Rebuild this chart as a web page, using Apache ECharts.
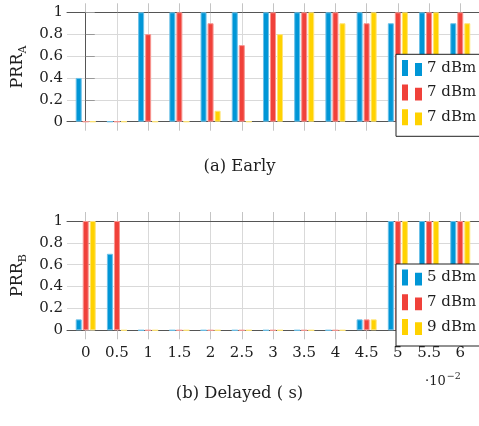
<!DOCTYPE html>
<html>
<head>
<meta charset="utf-8">
<script src="https://cdn.jsdelivr.net/npm/echarts@6/dist/echarts.min.js"></script>
<style>
  html, body { margin: 0; padding: 0; background: #fff; }
  #chart { width: 479px; height: 426px; }
</style>
</head>
<body>
<div id="chart"></div>
<script>
// Offsets along the x axis (units of 10^-2 s) and their tick labels
const offsets = [0, 0.5, 1, 1.5, 2, 2.5, 3, 3.5, 4, 4.5, 5, 5.5, 6];
const tickLabels = ['0', '0.5', '1', '1.5', '2', '2.5', '3', '3.5', '4', '4.5', '5', '5.5', '6'];
const yTicks = [0, 0.2, 0.4, 0.6, 0.8, 1];

// (a) Early
const earlyBlue   = [0.4, 0, 1, 1, 1, 1, 1, 1, 1, 1, 0.9, 1, 0.9];
const earlyRed    = [0, 0, 0.8, 1, 0.9, 0.7, 1, 1, 1, 0.9, 1, 1, 1];
const earlyYellow = [0, 0, 0, 0, 0.1, 0, 0.8, 1, 0.9, 1, 1, 1, 0.9];

// (b) Delayed
const delayedBlue   = [0.1, 0.7, 0, 0, 0, 0, 0, 0, 0, 0.1, 1, 1, 1];
const delayedRed    = [1, 1, 0, 0, 0, 0, 0, 0, 0, 0.1, 1, 1, 1];
const delayedYellow = [1, 0, 0, 0, 0, 0, 0, 0, 0, 0.1, 1, 1, 1];

// Legend entries
const earlyLegend = ['7 dBm', '7 dBm', '7 dBm'];
const delayedLegend = ['5 dBm', '7 dBm', '9 dBm'];

const FONT = 'DejaVu Serif';
const INK = '#1e1e1e';
const COLORS = ['#0096d6', '#f0413a', '#ffd200'];
const EDGES = ['#6cc0e8', '#f79590', '#ffe476'];
const legendIcon = 'path://M0,0H6V16H0Z M13,3.2H20V16H13Z';

const labelOf = {};
earlyLegend.forEach((t, i) => { labelOf['early-' + i] = t; });
delayedLegend.forEach((t, i) => { labelOf['delayed-' + i] = t; });

function barSeries(name, values, idx, gi) {
  return {
    type: 'bar',
    name: name,
    xAxisIndex: gi * 2,
    yAxisIndex: gi,
    data: offsets.map((x, i) => [x, values[i]]),
    barWidth: 6,
    barGap: '17%',
    itemStyle: { color: COLORS[idx], borderColor: EDGES[idx], borderWidth: 1 },
    silent: true
  };
}

function xAxes(gi, withLabels) {
  const common = {
    type: 'value', gridIndex: gi, min: -0.3, max: 6.3,
    axisLine: { show: true, lineStyle: { color: '#555', width: 1 } },
    axisTick: { show: true, inside: false, length: 9, customValues: offsets,
                lineStyle: { color: '#c4c4c4', width: 1 } }
  };
  return [
    Object.assign({}, common, {
      position: 'bottom',
      splitLine: { show: true, lineStyle: { color: '#d9d9d9', width: 1 } },
      axisLabel: withLabels ? {
        show: true, customValues: offsets, margin: 15,
        fontFamily: FONT, fontSize: 15, color: INK,
        formatter: v => tickLabels[offsets.indexOf(v)]
      } : { show: false }
    }),
    Object.assign({}, common, {
      position: 'top',
      splitLine: { show: false },
      axisLabel: { show: false }
    })
  ];
}

function yAxis(gi, sub) {
  return {
    type: 'value', gridIndex: gi, min: 0, max: 1, interval: 0.2,
    axisLine: { show: true, lineStyle: { color: '#555', width: 1 } },
    axisTick: { show: true, inside: true, length: 9, lineStyle: { color: '#999' } },
    splitLine: { show: true, lineStyle: { color: '#d9d9d9', width: 1 } },
    axisLabel: {
      margin: 4, fontFamily: FONT, fontSize: 15, color: INK,
      formatter: v => String(yTicks[Math.round(v / 0.2)])
    },
    name: '{m|PRR}{s|' + sub + '}',
    nameLocation: 'middle',
    nameGap: 38,
    nameRotate: 90,
    nameTextStyle: {
      rich: {
        m: { fontFamily: FONT, fontSize: 16, color: INK },
        s: { fontFamily: FONT, fontSize: 11, color: INK, padding: [10, 0, 0, 0] }
      }
    }
  };
}

function legend(names, top) {
  return {
    data: names,
    orient: 'vertical',
    left: 396,
    top: top,
    icon: legendIcon,
    itemWidth: 20,
    itemHeight: 16,
    itemGap: 8.7,
    selectedMode: false,
    formatter: n => labelOf[n],
    itemStyle: { borderWidth: 0 },
    textStyle: { fontFamily: FONT, fontSize: 15, color: INK },
    borderColor: '#222',
    borderWidth: 1,
    borderRadius: 0,
    backgroundColor: '#fff',
    padding: [5.6, 40, 11, 6]
  };
}

const chart = echarts.init(document.getElementById('chart'), null, { renderer: 'canvas' });
chart.setOption({
  animation: false,
  backgroundColor: '#fff',
  grid: [
    { left: 67, top: 12.3, width: 417.1, height: 109.4 },
    { left: 67, top: 221, width: 417.1, height: 109.3 }
  ],
  xAxis: xAxes(0, false).concat(xAxes(1, true)),
  yAxis: [yAxis(0, 'A'), yAxis(1, 'B')],
  legend: [
    legend(['early-0', 'early-1', 'early-2'], 54.3),
    legend(['delayed-0', 'delayed-1', 'delayed-2'], 264)
  ],
  series: [
    barSeries('early-0', earlyBlue, 0, 0),
    barSeries('early-1', earlyRed, 1, 0),
    barSeries('early-2', earlyYellow, 2, 0),
    barSeries('delayed-0', delayedBlue, 0, 1),
    barSeries('delayed-1', delayedRed, 1, 1),
    barSeries('delayed-2', delayedYellow, 2, 1)
  ],
  graphic: [
    { type: 'text', left: 'center', top: 159,
      style: { text: '(a) Early', fontFamily: FONT, fontSize: 16.4, fill: INK } },
    { type: 'text', left: 'center', top: 386,
      style: { text: '(b) Delayed ( s)', fontFamily: FONT, fontSize: 16.4, fill: INK } },
    { type: 'text', left: 425, top: 372,
      style: {
        text: '{a|·10}{b|−2}',
        rich: {
          a: { fontFamily: FONT, fontSize: 13, fill: INK, padding: [6, 0, 0, 0] },
          b: { fontFamily: FONT, fontSize: 9.5, fill: INK, padding: [0, 0, 4, 1] }
        }
      } }
  ]
});
</script>
</body>
</html>
